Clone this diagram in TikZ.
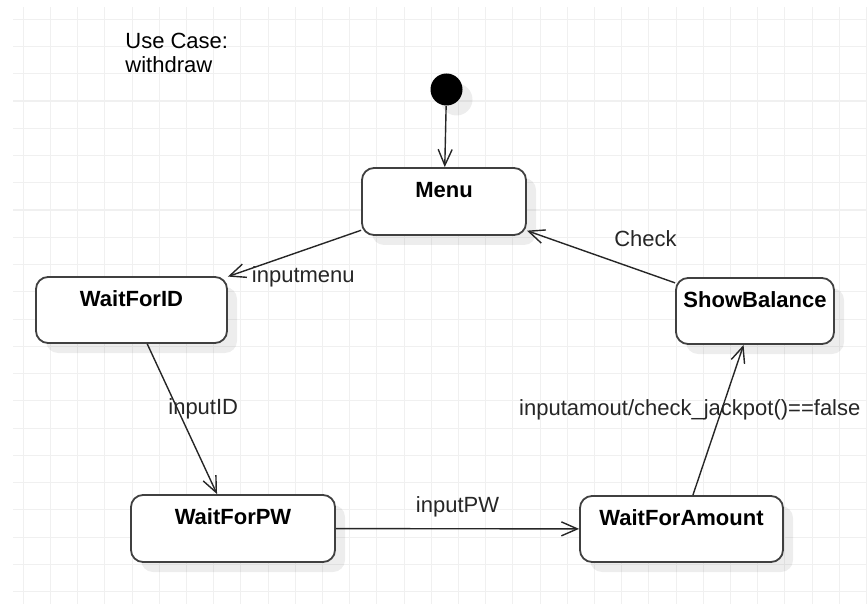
\documentclass[tikz,border=0pt]{standalone}
\usepackage{fontspec}
\setmainfont{Liberation Sans}
\usetikzlibrary{arrows.meta}
\usetikzlibrary{shadows}
\usetikzlibrary{positioning}

\definecolor{gridgray}{RGB}{240,240,240}

\begin{document}
\begin{tikzpicture}[x=0.5pt, y=-0.5pt,
  gridline/.style={gridgray, line width=0.55pt},
  statebox/.style={draw=black!75, line width=0.9pt, rounded corners=6pt, fill=white,
    drop shadow={shadow xshift=5pt, shadow yshift=-5pt, fill=black, opacity=0.07}},
  statename/.style={font=\bfseries, anchor=base},
  trans/.style={-{Straight Barb[length=8pt,width=7pt]}, black!85, line width=0.7pt},
  lbl/.style={text=black!85}]
\fontsize{11}{11.7}\selectfont
\useasboundingbox (0,0) rectangle (867,604);

% background grid
\foreach \k in {0,...,31}
  \draw[gridline] ({23.3+27.2*\k},7) -- ({23.3+27.2*\k},604);
\foreach \k in {0,...,21}
  \draw[gridline] (13,{19.3+27.25*\k}) -- (867,{19.3+27.25*\k});

\node[anchor=north west, align=left, inner sep=0pt] (usecase) at (125,33) {Use Case:\\withdraw};

% states
\node[circle, fill=black, minimum size=16pt, inner sep=0pt,
  drop shadow={shadow xshift=5pt, shadow yshift=-5pt, fill=black, opacity=0.07}] (start) at (446.5,89.5) {};

\node[statebox, minimum width=82pt, minimum height=33.5pt] (menu) at (444,201.5) {};
\node[statebox, minimum width=95.5pt, minimum height=33pt] (waitid) at (131.5,310) {};
\node[statebox, minimum width=79pt, minimum height=33pt] (showbalance) at (755,311) {};
\node[statebox, minimum width=102pt, minimum height=33.5pt] (waitpw) at (233,528.5) {};
\node[statebox, minimum width=101.5pt, minimum height=33pt] (waitamount) at (681.5,529) {};

\node[statename] (menuname) at ([yshift=-15pt]menu.north) {Menu};
\node[statename] (waitidname) at ([yshift=-15pt]waitid.north) {WaitForID};
\node[statename] (showbalancename) at ([yshift=-15pt]showbalance.north) {ShowBalance};
\node[statename] (waitpwname) at ([yshift=-15pt]waitpw.north) {WaitForPW};
\node[statename] (waitamountname) at ([yshift=-15pt]waitamount.north) {WaitForAmount};

% transitions
\draw[trans] (start) -- (menu);
\draw[trans] (menu) -- (waitid) node(inputmenu)[pos=1, right=8pt, lbl]{inputmenu};
\draw[trans] (waitid) -- (waitpw) node(inputid)[pos=0.43, xshift=13pt, lbl]{inputID};
\draw[trans] (waitpw) -- (waitamount) node(inputpw)[midway, above=2pt, lbl]{inputPW};
\draw[trans] (waitamount) -- (showbalance) node(inputamount)[pos=0.57, xshift=-16pt, lbl]{inputamout/check\_jackpot()==false};
\draw[trans] (showbalance) -- (menu) node(check)[pos=0.2, yshift=17pt, lbl]{Check};

\end{tikzpicture}
\end{document}
